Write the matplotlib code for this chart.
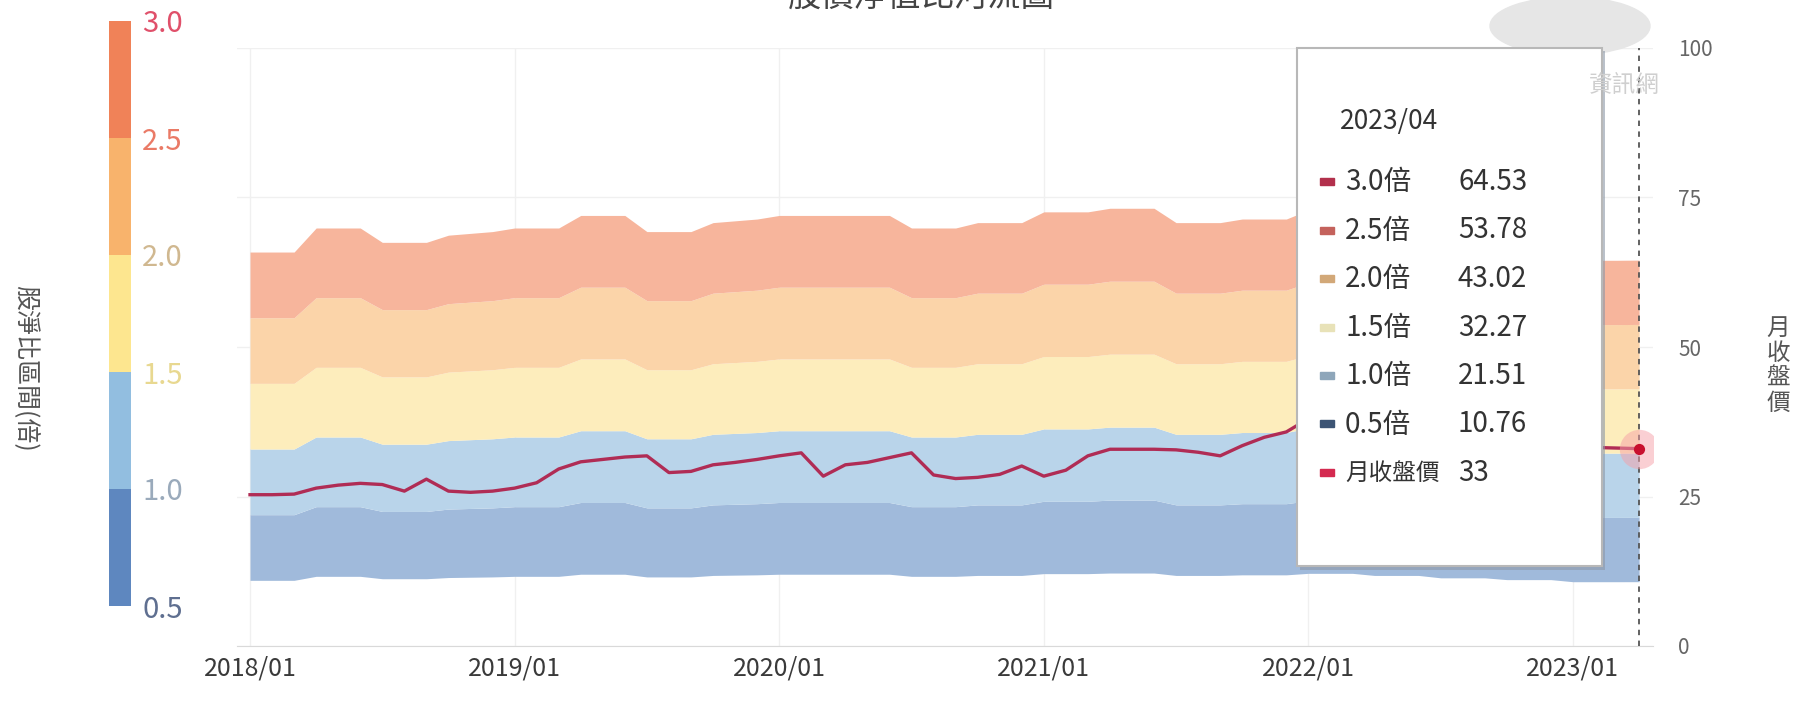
import numpy as np
import matplotlib
matplotlib.use('Agg')
import matplotlib.pyplot as plt
from matplotlib.patches import Rectangle, Ellipse

plt.rcParams['font.family'] = ['Noto Sans CJK TC', 'DejaVu Sans']

# monthly data, 2018/01 .. 2023/04
months = list(range(64))
tick_pos = [0, 12, 24, 36, 48, 60]
tick_labels = ['2018/01', '2019/01', '2020/01', '2021/01', '2022/01', '2023/01']

# book value per share (band base)
bvps = [21.96, 21.96, 21.96, 23.3, 23.3, 23.3, 22.5, 22.5, 22.5, 22.9, 23.0, 23.1,
        23.3, 23.3, 23.3, 24.0, 24.0, 24.0, 23.1, 23.1, 23.1, 23.6, 23.7, 23.8,
        24.0, 24.0, 24.0, 24.0, 24.0, 24.0, 23.3, 23.3, 23.3, 23.6, 23.6, 23.6,
        24.2, 24.2, 24.2, 24.4, 24.4, 24.4, 23.6, 23.6, 23.6, 23.8, 23.8, 23.8,
        24.3, 24.3, 24.3, 23.6, 23.6, 23.6, 22.8, 22.8, 22.8, 22.2, 22.2, 22.2,
        21.5, 21.5, 21.5, 21.51]

# monthly close
close = [25.3, 25.3, 25.4, 26.4, 26.9, 27.2, 27.0, 25.9, 27.9, 25.9, 25.7, 25.9,
         26.4, 27.3, 29.6, 30.8, 31.2, 31.6, 31.8, 29.0, 29.2, 30.3, 30.7, 31.2,
         31.8, 32.3, 28.4, 30.3, 30.7, 31.5, 32.3, 28.6, 28.0, 28.2, 28.7, 30.1,
         28.4, 29.4, 31.8, 32.9, 32.9, 32.9, 32.8, 32.4, 31.8, 33.5, 34.9, 35.8,
         38.0, 40.2, 37.6, 36.4, 35.1, 33.0, 31.2, 30.5, 29.0, 30.2, 31.8, 32.9,
         33.6, 33.2, 33.1, 33.0]

pb_levels = [0.5, 1.0, 1.5, 2.0, 2.5, 3.0]
pb_labels = ['0.5', '1.0', '1.5', '2.0', '2.5', '3.0']
band_colors = ['#a0badb', '#b9d4ea', '#fdedbc', '#fbd4a9', '#f7b59c']
cbar_colors = ['#5e87bf', '#92bee0', '#fde68f', '#f8b36c', '#f08258']
cbar_label_colors = ['#5f6f90', '#9aaabb', '#e8d890', '#d0b890', '#ea7a66', '#e0506a']

price_ticks = [0, 25, 50, 75, 100]

tip_date = '2023/04'
tip_names = ['3.0倍', '2.5倍', '2.0倍', '1.5倍', '1.0倍', '0.5倍', '月收盤價']
tip_values = ['64.53', '53.78', '43.02', '32.27', '21.51', '10.76', '33']
tip_colors = ['#b2304c', '#c4625c', '#d2a878', '#e8e2b8', '#8ea6ba', '#3c5474', '#d42a50']

W, H = 1800, 707
fig = plt.figure(figsize=(18, 7.07), dpi=100)


def fx(px):
    return px / W


def fy(py):
    # py measured from the top edge in pixels
    return 1 - py / H


ax = fig.add_axes([fx(237), fy(646), fx(1653) - fx(237), fy(48) - fy(646)])
bv = np.array(bvps)
for i in range(5):
    ax.fill_between(months, bv * pb_levels[i], bv * pb_levels[i + 1],
                    color=band_colors[i], lw=0, zorder=2)
ax.plot(months, close, color='#b02c55', lw=2.4, zorder=3)
ax.set_xlim(-0.59, 63.63)
ax.set_ylim(0, 100)
ax.set_xticks(tick_pos, tick_labels)
ax.set_yticks(price_ticks)
ax.yaxis.tick_right()
ax.grid(True, color='#f0f0f0', lw=1)
ax.set_axisbelow(True)
for s in ['top', 'left', 'right']:
    ax.spines[s].set_visible(False)
ax.spines['bottom'].set_color('#d9d9d9')
ax.tick_params(axis='both', length=0)
ax.tick_params(axis='x', pad=7, labelsize=18, labelcolor='#3a3a3a')
ax.tick_params(axis='y', pad=18, labelsize=15, labelcolor='#666666')

# hover crosshair + point
ax.axvline(months[-1], color='#555555', lw=1.3, ls=(0, (3, 3)), zorder=4)
ax.scatter([months[-1]], [close[-1]], s=800, color='#f6a0a8', alpha=0.5, lw=0, zorder=5)
ax.scatter([months[-1]], [close[-1]], s=65, color='#c8102e', lw=0, zorder=6)

# colour scale on the left
cax = fig.add_axes([fx(109), fy(606), fx(131) - fx(109), fy(21) - fy(606)])
cax.bar([0] * 5, np.diff(pb_levels), bottom=pb_levels[:-1], width=1, color=cbar_colors)
cax.set_xlim(-0.5, 0.5)
cax.set_ylim(pb_levels[0], pb_levels[-1])
cax.set_xticks([])
cax.set_yticks(pb_levels, pb_labels)
cax.yaxis.tick_right()
for s in cax.spines.values():
    s.set_visible(False)
cax.tick_params(axis='y', length=0, pad=8, labelsize=21)
for lbl, c in zip(cax.get_yticklabels(), cbar_label_colors):
    lbl.set_color(c)

fig.text(fx(25), fy(368), '股淨比區間(倍)', rotation=270, ha='center', va='center',
         fontsize=18, color='#555555')
fig.text(fx(1778), fy(366), '月\n收\n盤\n價', ha='center', va='center',
         fontsize=17, color='#555555', linespacing=1.1)

# title, mostly cut off at the top as in the source image
fig.text(0.512, fy(-4), '股價淨值比河流圖', ha='center', va='center', fontsize=24, color='#444444')

# tooltip
fig.add_artist(Rectangle((fx(1300), fy(570)), fx(1605) - fx(1300), fy(51) - fy(570),
                         transform=fig.transFigure, fc='#8c98a8', ec='none', alpha=0.6, zorder=9))
fig.add_artist(Rectangle((fx(1297), fy(566)), fx(1602) - fx(1297), fy(48) - fy(566),
                         transform=fig.transFigure, fc='white', ec='#b8b8b8', lw=1.5, zorder=10))
fig.text(fx(1340), fy(121), tip_date, fontsize=19, color='#333333', va='center', zorder=11)
for i, (name, val, c) in enumerate(zip(tip_names, tip_values, tip_colors)):
    y = 182 + i * 48.5
    fs = 17 if name == '月收盤價' else 20
    fig.add_artist(Rectangle((fx(1320), fy(y + 3)), fx(14), 7 / H, transform=fig.transFigure,
                             color=c, zorder=11))
    fig.text(fx(1345), fy(y), name, fontsize=fs, color='#333333', va='center', zorder=11)
    fig.text(fx(1458), fy(y), val, fontsize=20, color='#333333', va='center', zorder=11)

# watermark (drawn over the tooltip edge)
fig.add_artist(Ellipse((fx(1570), fy(26)), fx(160), 58 / H, transform=fig.transFigure,
                       color='#e6e6e6', zorder=4))
fig.text(fx(1660), fy(86), '資訊網', ha='right', va='center', fontsize=17,
         color='#cfcfcf', zorder=12)

fig.savefig('out.png', dpi=100, facecolor='white')
